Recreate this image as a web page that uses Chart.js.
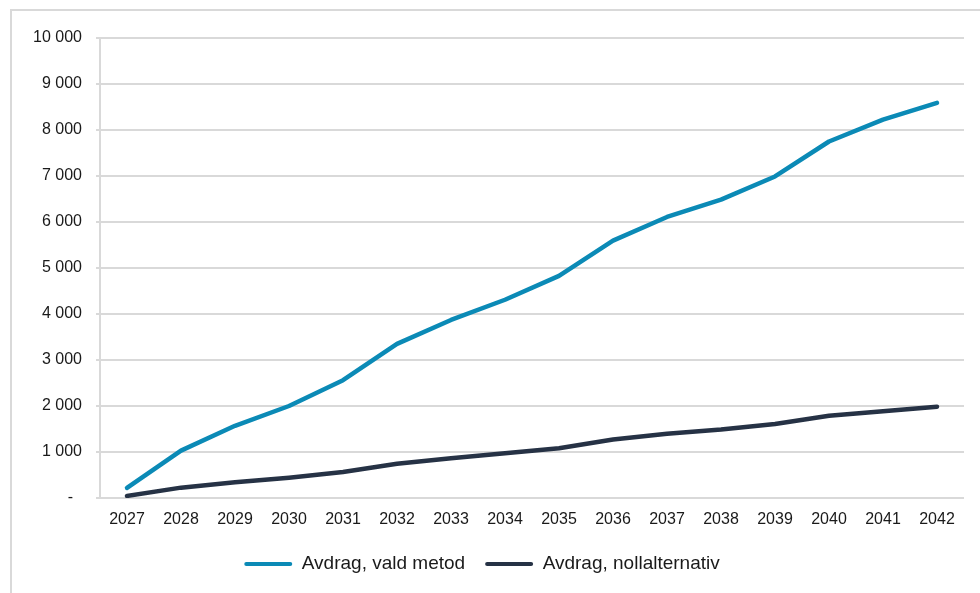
<!DOCTYPE html>
<html lang="sv">
<head>
<meta charset="utf-8">
<title>Avdrag</title>
<script src="https://cdn.jsdelivr.net/npm/chart.js@4.4.1/dist/chart.umd.min.js"></script>
<style>
    html, body { margin: 0; padding: 0; background: #fff; overflow: hidden; }
    #ram {
        position: absolute; left: 10px; top: 9px; width: 1200px; height: 800px;
        border-left: 2px solid #d9d9d9; border-top: 2px solid #d9d9d9;
    }
    #graf { position: absolute; left: 0; top: 0; }
</style>
</head>
<body>
<div id="ram"></div>
<canvas id="graf" width="980" height="593"></canvas>
<script>
// År på x-axeln
const ar = ['2027', '2028', '2029', '2030', '2031', '2032', '2033', '2034',
            '2035', '2036', '2037', '2038', '2039', '2040', '2041', '2042'];

// Ackumulerade avdrag per år
const avdragValdMetod = [220, 1030, 1570, 2000, 2560, 3350, 3870, 4310,
                         4830, 5595, 6110, 6485, 6990, 7750, 8225, 8590];
const avdragNollalternativ = [45, 225, 340, 440, 565, 745, 862, 972,
                              1080, 1270, 1395, 1487, 1610, 1788, 1888, 1985];

const serieNamn = ['Avdrag, vald metod', 'Avdrag, nollalternativ'];
const serieFarg = ['#0b8ab6', '#263245'];

const yMax = 10000;
const ySteg = 1000;

// Tusental med mellanslag, noll visas som streck
function formatTal(v) {
    if (v === 0) return '-\u00a0\u00a0';
    return String(v).replace(/\B(?=(\d{3})+(?!\d))/g, ' ');
}

const typsnitt = "'Liberation Sans', Arial, sans-serif";
const rutnat = '#d9d9d9';

function linje(namn, data, farg) {
    return {
        label: namn,
        data: data,
        borderColor: farg,
        backgroundColor: farg,
        borderWidth: 4.5,
        borderCapStyle: 'round',
        borderJoinStyle: 'round',
        pointRadius: 0,
        pointHoverRadius: 0,
        tension: 0,
        fill: false
    };
}

new Chart(document.getElementById('graf').getContext('2d'), {
    type: 'line',
    data: {
        labels: ar,
        datasets: [
            linje(serieNamn[0], avdragValdMetod, serieFarg[0]),
            linje(serieNamn[1], avdragNollalternativ, serieFarg[1])
        ]
    },
    options: {
        responsive: false,
        animation: false,
        devicePixelRatio: 1,
        layout: { padding: { left: 0, top: 38, right: 16, bottom: 9.5 } },
        plugins: {
            tooltip: { enabled: false },
            legend: {
                position: 'bottom',
                labels: {
                    boxWidth: 48,
                    boxHeight: 4,
                    padding: 20,
                    color: '#1a1a1a',
                    font: { family: typsnitt, size: 19 },
                    useBorderRadius: true,
                    borderRadius: 2,
                    generateLabels: function (chart) {
                        const standard = Chart.defaults.plugins.legend.labels.generateLabels(chart);
                        standard.forEach(item => {
                            item.lineWidth = 0;
                            item.fillStyle = item.strokeStyle;
                        });
                        return standard;
                    }
                }
            }
        },
        scales: {
            x: {
                offset: true,
                grid: { display: false, drawTicks: false, tickLength: 0 },
                border: { display: false },
                ticks: {
                    color: '#1a1a1a',
                    padding: 12,
                    maxRotation: 0,
                    autoSkip: false,
                    font: { family: typsnitt, size: 16 }
                },
                afterFit: function (axis) { axis.height = 36.5; }
            },
            y: {
                min: 0,
                max: yMax,
                grid: { color: rutnat, lineWidth: 2, drawTicks: true, tickLength: 4 },
                border: { display: true, color: rutnat, width: 2 },
                ticks: {
                    stepSize: ySteg,
                    color: '#1a1a1a',
                    padding: 14,
                    font: { family: typsnitt, size: 16 },
                    callback: v => formatTal(v)
                },
                afterFit: function (axis) { axis.width = 100; }
            }
        }
    }
});
</script>
</body>
</html>
